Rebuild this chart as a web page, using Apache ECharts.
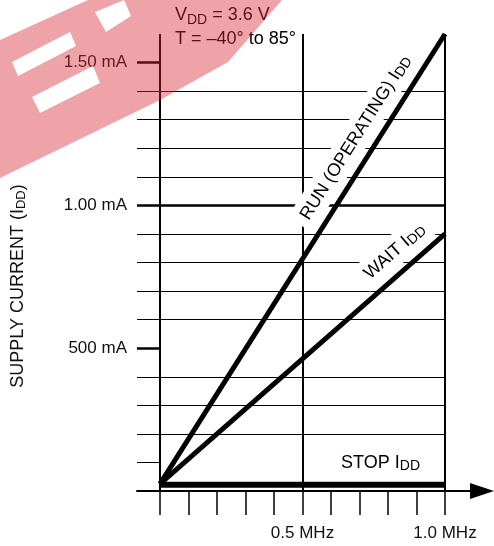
<!DOCTYPE html>
<html>
<head>
<meta charset="utf-8">
<script src="https://cdn.jsdelivr.net/npm/echarts@6/dist/echarts.min.js"></script>
<style>
  html, body { margin: 0; padding: 0; background: #fff; }
  #chart { width: 494px; height: 546px; }
</style>
</head>
<body>
<div id="chart"></div>
<script>
var chart = echarts.init(document.getElementById('chart'));

// data (MHz, mA)
var freqMHz = [0, 1.0];
var runMA = [0.025, 1.6];
var waitMA = [0.025, 0.9];
var stopMA = [0.022, 0.022];

// tick labels
var xLabelVals = [0.5, 1.0];
var xLabelText = ['0.5 MHz', '1.0 MHz'];
var yLabelVals = [0.5, 1.0, 1.5];
var yLabelText = ['500 mA', '1.00 mA', '1.50 mA'];
var yMinorTicks = [0.1, 0.2, 0.3, 0.4, 0.6, 0.7, 0.8, 0.9, 1.1, 1.2, 1.3, 1.4];

var FONT = '"Liberation Sans", Arial, Helvetica, sans-serif';

function pairs(xs, ys) {
    var out = [];
    for (var i = 0; i < xs.length; i++) out.push([xs[i], ys[i]]);
    return out;
}

var richSub = {
    a: { fontFamily: FONT, fontSize: 18, fontWeight: 'normal', color: '#000', lineHeight: 20 },
    s: { fontFamily: FONT, fontSize: 14, fontWeight: 'normal', color: '#000', lineHeight: 6, verticalAlign: 'bottom' }
};

function lineLabel(xs, ys, text, dist, pad) {
    return {
        symbol: 'none',
        silent: true,
        animation: false,
        lineStyle: { width: 0, color: 'rgba(0,0,0,0)' },
        label: {
            show: true,
            position: 'insideEndTop',
            distance: dist,
            formatter: text,
            color: '#000',
            backgroundColor: '#fff',
            padding: pad,
            rich: richSub
        },
        data: [[
            { coord: [xs[0], ys[0]] },
            { coord: [xs[xs.length - 1], ys[ys.length - 1]] }
        ]]
    };
}

function curve(name, ys, width, mark) {
    return {
        name: name,
        type: 'line',
        xAxisIndex: 0,
        yAxisIndex: 0,
        data: pairs(freqMHz, ys),
        symbol: 'none',
        clip: false,
        z: 5,
        lineStyle: { color: '#000', width: width },
        markLine: mark
    };
}

var option = {
    animation: false,
    backgroundColor: '#fff',
    title: {
        left: 172,
        top: 3,
        padding: [0, 3, 0, 3],
        backgroundColor: '#fff',
        text: '{v|V}{s|DD}{v| = 3.6 V}\n{v|T = –40° to 85°}',
        textStyle: {
            fontWeight: 'normal',
            rich: {
                v: { fontFamily: FONT, fontSize: 18, fontWeight: 'normal', color: '#000', lineHeight: 24 },
                s: { fontFamily: FONT, fontSize: 14, fontWeight: 'normal', color: '#000', lineHeight: 8, verticalAlign: 'bottom' }
            }
        }
    },
    grid: [
        { left: 160, right: 49, top: 34, bottom: 55 },
        { left: 160, right: 49, top: 34, bottom: 55 },
        { left: 137, right: 12, top: 34, bottom: 55 }
    ],
    xAxis: [
        {
            gridIndex: 0, type: 'value', min: 0, max: 1, interval: 0.1,
            axisLine: { show: false },
            axisTick: { show: true, inside: false, length: 24, lineStyle: { color: '#000', width: 1.5 } },
            splitLine: { show: false },
            axisLabel: {
                customValues: xLabelVals,
                margin: 34,
                fontFamily: FONT, fontSize: 17, color: '#111',
                formatter: function (v) {
                    var i = xLabelVals.indexOf(Math.round(v * 10) / 10);
                    return i >= 0 ? xLabelText[i] : '';
                }
            }
        },
        {
            gridIndex: 1, type: 'value', min: 0, max: 1, interval: 0.5,
            axisLine: { show: false }, axisTick: { show: false }, axisLabel: { show: false },
            splitLine: { show: true, lineStyle: { color: '#000', width: 2 } }
        },
        {
            gridIndex: 2, type: 'value', min: 0, max: 1,
            axisLine: {
                show: true, onZero: false,
                symbol: ['none', 'triangle'], symbolSize: [16, 24],
                lineStyle: { color: '#000', width: 2 }
            },
            axisTick: { show: false }, axisLabel: { show: false }, splitLine: { show: false }
        }
    ],
    yAxis: [
        {
            gridIndex: 0, type: 'value', min: 0, max: 1.6, interval: 0.1,
            axisLine: { show: false },
            axisTick: { show: true, inside: false, length: 23, customValues: yMinorTicks, lineStyle: { color: '#000', width: 1 } },
            axisLabel: { show: false },
            splitLine: { show: true, showMinLine: false, lineStyle: { color: '#000', width: 1 } }
        },
        {
            gridIndex: 1, type: 'value', min: 0, max: 1.6, interval: 0.5,
            axisLine: { show: false },
            axisTick: { show: true, inside: false, length: 23, customValues: yLabelVals, lineStyle: { color: '#000', width: 2.5 } },
            axisLabel: {
                customValues: yLabelVals,
                margin: 33,
                fontFamily: FONT, fontSize: 17, color: '#111',
                formatter: function (v) {
                    var i = yLabelVals.indexOf(Math.round(v * 10) / 10);
                    return i >= 0 ? yLabelText[i] : '';
                }
            },
            splitLine: { show: true, showMinLine: false, showMaxLine: false, lineStyle: { color: '#000', width: 2.5 } }
        },
        {
            gridIndex: 2, type: 'value', min: 0, max: 1, show: false
        }
    ],
    series: [
        curve('RUN', runMA, 5, lineLabel(freqMHz, runMA, '{a|RUN (OPERATING) I}{s|DD}', [34, 6], [5, 6, 4, 8])),
        curve('WAIT', waitMA, 5, lineLabel(freqMHz, waitMA, '{a|WAIT I}{s|DD}', [6, 6], [5, 6, 4, 8])),
        curve('STOP', stopMA, 6, lineLabel(freqMHz, stopMA, '{a|STOP I}{s|DD}', [22, 11], [1, 3, 1, 3]))
    ],
    graphic: [
        {
            type: 'text',
            x: 18, y: 286,
            rotation: Math.PI / 2,
            style: {
                text: '{a|SUPPLY CURRENT (I}{s|DD}{a|)}',
                align: 'center',
                verticalAlign: 'middle',
                rich: {
                    a: { fontFamily: FONT, fontSize: 18, fill: '#111', lineHeight: 20 },
                    s: { fontFamily: FONT, fontSize: 13, fill: '#111', lineHeight: 6, verticalAlign: 'bottom' }
                }
            }
        },
        // translucent watermark in the top-left corner
        {
            type: 'polygon', z: 100, zlevel: 1, silent: true,
            shape: { points: [[0, 40], [88, 0], [282, 0], [228, 62], [160, 100], [0, 178]] },
            style: { fill: 'rgba(215,35,50,0.42)' }
        },
        {
            type: 'polygon', z: 101, zlevel: 1, silent: true,
            shape: { points: [[12, 62], [70, 32], [76, 46], [18, 76]] },
            style: { fill: '#fff' }
        },
        {
            type: 'polygon', z: 101, zlevel: 1, silent: true,
            shape: { points: [[32, 97], [93, 66], [100, 83], [40, 113]] },
            style: { fill: '#fff' }
        },
        {
            type: 'polygon', z: 101, zlevel: 1, silent: true,
            shape: { points: [[95, 12], [124, 0], [131, 16], [106, 32]] },
            style: { fill: '#fff' }
        }
    ]
};

chart.setOption(option);
</script>
</body>
</html>
